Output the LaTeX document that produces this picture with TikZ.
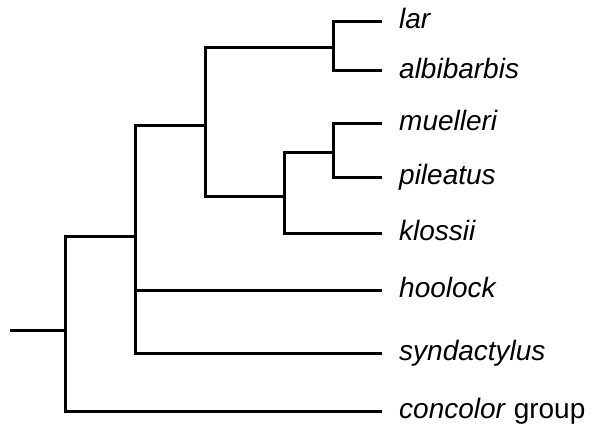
\documentclass[tikz,border=0pt]{standalone}
\usepackage{fontspec}
\setmainfont{Liberation Sans}
\begin{document}
\begin{tikzpicture}[x=1pt,y=-1pt,
  branch/.style={line width=3pt,line cap=rect,line join=miter},
  leaf/.style={anchor=west,inner sep=0pt,text height=20pt,text depth=6pt,
    font=\fontsize{28}{33}\selectfont}]
\useasboundingbox (0,0) rectangle (592,428);
% leaf labels
\node[leaf] (lar) at (399,22) {\textit{lar}};
\node[leaf] (alb) at (399,71) {\textit{albibarbis}};
\node[leaf] (mue) at (399,123) {\textit{muelleri}};
\node[leaf] (pil) at (399,177) {\textit{pileatus}};
\node[leaf] (klo) at (399,233) {\textit{klossii}};
\node[leaf] (hoo) at (399,290) {\textit{hoolock}};
\node[leaf] (syn) at (399,353) {\textit{syndactylus}};
\node[leaf] (con) at (399,411) {\textit{concolor} group};
% leaf tips
\foreach \n in {lar,alb,mue,pil,klo,hoo,syn,con}
  \coordinate (t\n) at ([xshift=-19pt]\n.west);
% internal nodes
\coordinate (n1) at (333,48);
\coordinate (n2) at (333,152);
\coordinate (n3) at (284,196);
\coordinate (n4) at (205,125);
\coordinate (n5) at (135,236);
\coordinate (n6) at (65,330);
\coordinate (root) at (11,330);
% branches
\draw[branch] (n1) |- (tlar);
\draw[branch] (n1) |- (talb);
\draw[branch] (n2) |- (tmue);
\draw[branch] (n2) |- (tpil);
\draw[branch] (n3) |- (n2);
\draw[branch] (n3) |- (tklo);
\draw[branch] (n4) |- (n1);
\draw[branch] (n4) |- (n3);
\draw[branch] (n5) |- (n4);
\draw[branch] (n5) |- (thoo);
\draw[branch] (n5) |- (tsyn);
\draw[branch] (n6) |- (n5);
\draw[branch] (n6) |- (tcon);
\draw[branch] (root) -- (n6);
\end{tikzpicture}
\end{document}
